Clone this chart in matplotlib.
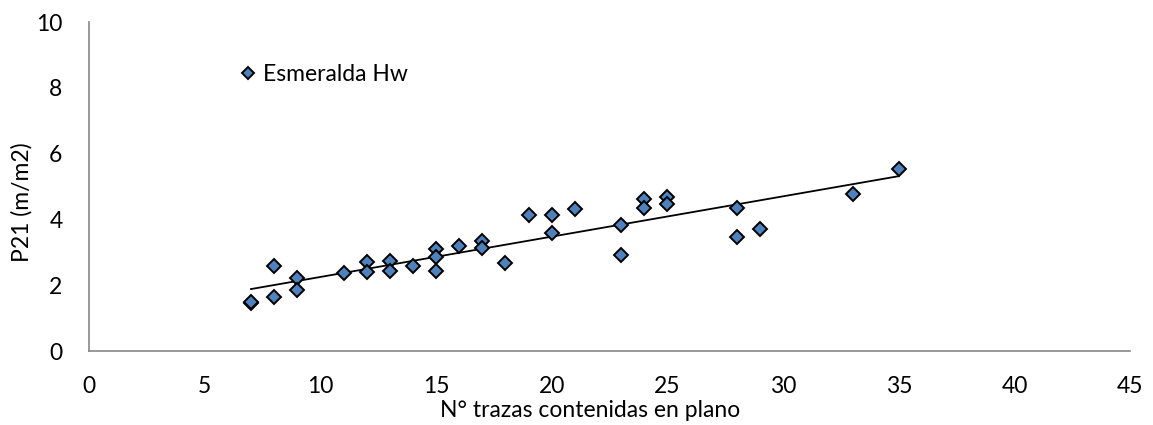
import matplotlib
matplotlib.use("Agg")
import matplotlib.pyplot as plt
import numpy as np

# point data
n_trazas = [7, 7, 8, 8, 9, 9, 11, 12, 12, 13, 13, 14, 15, 15, 15, 16, 17, 17,
            18, 19, 20, 20, 21, 23, 23, 24, 24, 25, 25, 28, 28, 29, 33, 35]
p21 = [1.45, 1.50, 2.59, 1.63, 2.21, 1.86, 2.36, 2.70, 2.39, 2.74, 2.44, 2.58,
       3.09, 2.87, 2.43, 3.19, 3.34, 3.14, 2.68, 4.15, 4.15, 3.58, 4.31, 3.82,
       2.92, 4.61, 4.34, 4.69, 4.46, 4.36, 3.47, 3.70, 4.77, 5.52]
serie = "Esmeralda Hw"
xticks = [0, 5, 10, 15, 20, 25, 30, 35, 40, 45]
yticks = [0, 2, 4, 6, 8, 10]

plt.rcParams['font.family'] = ['Lato', 'DejaVu Sans']
fs = 16.5

fig = plt.figure(figsize=(11.53, 4.25), dpi=100)
ax = fig.add_axes([0.0772, 0.174, 0.903, 0.774])

ax.plot(n_trazas, p21, 'D', ms=7.5, mfc='#4F81BD', mec='black', mew=1.4,
        label=serie, zorder=3)

# linear trend line, same as the spreadsheet one
m, b = np.polyfit(n_trazas, p21, 1)
xs = np.array([min(n_trazas), max(n_trazas)])
ax.plot(xs, m * xs + b, color='black', lw=1.3, zorder=2)

ax.set_xlim(0, 45)
ax.set_ylim(0, 10)
ax.set_xticks(xticks)
ax.set_yticks(yticks)
ax.tick_params(axis='x', length=0, labelsize=fs, pad=18)
ax.tick_params(axis='y', length=0, labelsize=fs, pad=19)
for s in ['top', 'right']:
    ax.spines[s].set_visible(False)
for s in ['left', 'bottom']:
    ax.spines[s].set_color('#888888')
    ax.spines[s].set_linewidth(1.2)

ax.set_xlabel('N° trazas contenidas en plano', fontsize=fs)
ax.xaxis.set_label_coords(0.481, -0.15)
ax.set_ylabel('P21 (m/m2)', fontsize=fs)
ax.yaxis.set_label_coords(-0.054, 0.453)

ax.legend(loc='upper left', bbox_to_anchor=(0.131, 0.908), frameon=False,
          fontsize=fs, handletextpad=0.15, handlelength=1.0, borderpad=0,
          markerscale=0.75)

fig.savefig('out.png', dpi=100)
